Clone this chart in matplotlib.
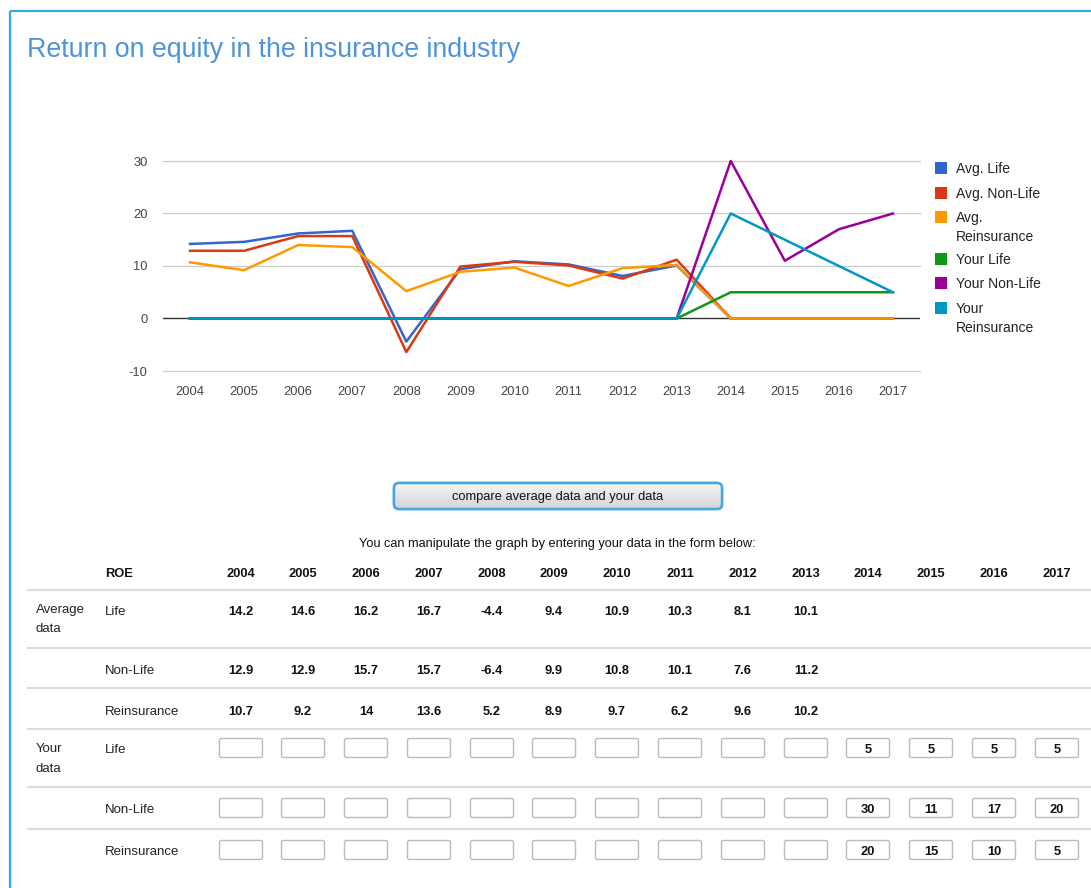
import matplotlib.pyplot as plt
import numpy as np
from matplotlib.colors import LinearSegmentedColormap
from matplotlib.patches import FancyBboxPatch, Rectangle

plt.rcParams['axes.unicode_minus'] = False
plt.rcParams['font.family'] = ['Liberation Sans', 'DejaVu Sans']

# data (empty form fields count as 0 in the graph)
years = list(range(2004, 2018))
n_avg = 10

avg_life = [14.2, 14.6, 16.2, 16.7, -4.4, 9.4, 10.9, 10.3, 8.1, 10.1]
avg_nonlife = [12.9, 12.9, 15.7, 15.7, -6.4, 9.9, 10.8, 10.1, 7.6, 11.2]
avg_reins = [10.7, 9.2, 14, 13.6, 5.2, 8.9, 9.7, 6.2, 9.6, 10.2]
your_life = [5, 5, 5, 5]
your_nonlife = [30, 11, 17, 20]
your_reins = [20, 15, 10, 5]

series_names = ['Avg. Life', 'Avg. Non-Life', 'Avg.\nReinsurance',
                'Your Life', 'Your Non-Life', 'Your\nReinsurance']
colors = ['#3366cc', '#dc3912', '#ff9900', '#109618', '#990099', '#0099c6']
row_names = ['Life', 'Non-Life', 'Reinsurance']

title = 'Return on equity in the insurance industry'
button_text = 'compare average data and your data'
hint_text = 'You can manipulate the graph by entering your data in the form below:'

W, H = 1091, 888
fig = plt.figure(figsize=(W / 100, H / 100), dpi=100)
fig.patch.set_facecolor('white')

# overlay in pixel coords for page elements
ov = fig.add_axes([0, 0, 1, 1], zorder=0)
ov.set_xlim(0, W)
ov.set_ylim(H, 0)
ov.axis('off')

# frame
ov.plot([10, W], [11, 11], color='#33a8de', lw=1.6, solid_capstyle='butt')
ov.plot([10, 10], [11, H], color='#33a8de', lw=1.6, solid_capstyle='butt')

ov.text(27, 50, title, fontsize=19.3, color='#4d94db', va='center', ha='left')

# chart
left, right, top, bottom = 163, 920, 161, 371
ax = fig.add_axes([left / W, 1 - bottom / H, (right - left) / W, (bottom - top) / H], zorder=1)
ax.set_facecolor('none')
ax.set_xlim(2003.5, 2017.5)
ax.set_ylim(-10, 30)
for s in ax.spines.values():
    s.set_visible(False)
ax.set_xticks(years)
ax.set_yticks([-10, 0, 10, 20, 30])
ax.tick_params(length=0, labelsize=9.3, labelcolor='#444444')
ax.tick_params(axis='x', pad=11)
ax.tick_params(axis='y', pad=11)
for v in [-10, 10, 20, 30]:
    ax.axhline(v, color='#cccccc', lw=0.9, zorder=0, clip_on=False)
ax.axhline(0, color='#333333', lw=1.0, zorder=2)

avg_series = [avg_life, avg_nonlife, avg_reins]
your_series = [your_life, your_nonlife, your_reins]
full = [s + [0] * (len(years) - n_avg) for s in avg_series] + \
       [[0] * n_avg + s for s in your_series]
for i, vals in enumerate(full):
    z = 2.5 if i < 3 else 3
    ax.plot(years, vals, color=colors[i], lw=1.8, zorder=z, clip_on=False)

# legend
leg_y = [168, 193, 217, 259, 283, 308]
for name, c, yc in zip(series_names, colors, leg_y):
    ov.add_patch(Rectangle((935, yc - 6), 12, 12, facecolor=c, edgecolor='none'))
    for j, line in enumerate(name.split('\n')):
        ov.text(956, yc + 1 + j * 19, line, fontsize=10, color='#222222', va='center',
                ha='left')

# button
btn = FancyBboxPatch((394, 483), 328, 26, boxstyle='round,pad=0,rounding_size=5',
                     facecolor='#e2e2e2', edgecolor='#4aa6e0', lw=1.8)
ov.add_patch(btn)
grad = LinearSegmentedColormap.from_list('g', ['#f6f6f6', '#d4d4d4'])
im = ov.imshow(np.linspace(0, 1, 50).reshape(-1, 1), extent=(394, 722, 509, 483),
               cmap=grad, aspect='auto', zorder=btn.get_zorder() + 0.1)
im.set_clip_path(btn)
ov.add_patch(FancyBboxPatch((394, 483), 328, 26, boxstyle='round,pad=0,rounding_size=5',
                            facecolor='none', edgecolor='#4aa6e0', lw=1.8,
                            zorder=btn.get_zorder() + 0.2))
ov.set_xlim(0, W)
ov.set_ylim(H, 0)
ov.text(558, 497, button_text, fontsize=9.3, color='#111111', ha='center', va='center',
        zorder=5)

ov.text(557, 544, hint_text, fontsize=9.2, color='#111111', ha='center', va='center')

# table
col_x = [241, 303, 366, 429, 492, 554, 617, 680, 743, 806, 868, 931, 994, 1057]
tfont = dict(fontsize=9.3, color='#111111', va='center')
ov.text(105, 573.5, 'ROE', fontweight='bold', ha='left', **tfont)
for x, yr in zip(col_x, years):
    ov.text(x, 573.5, str(yr), fontweight='bold', ha='center', **tfont)

for ly in [590, 648, 688, 729, 787, 829]:
    ov.plot([27, W], [ly, ly], color='#dddddd', lw=1.6, solid_capstyle='butt')

lfont = dict(fontsize=9.5, color='#222222', va='center', ha='left')
ov.text(36, 609.5, 'Average', **lfont)
ov.text(36, 628.5, 'data', **lfont)
ov.text(36, 748.5, 'Your', **lfont)
ov.text(36, 768.5, 'data', **lfont)

avg_rows_y = [611.5, 670.5, 711.5]
for name, vals, yc in zip(row_names, avg_series, avg_rows_y):
    ov.text(105, yc, name, **lfont)
    for x, v in zip(col_x, vals):
        ov.text(x, yc, f'{v:g}', fontweight='bold', ha='center', **tfont)

your_rows_y = [748, 808, 850]
for name, vals, yc in zip(row_names, your_series, your_rows_y):
    ov.text(105, yc + 1.5, name, **lfont)
    cells = [None] * n_avg + vals
    for x, v in zip(col_x, cells):
        ov.add_patch(FancyBboxPatch((x - 21.5, yc - 9.5), 43, 19,
                                    boxstyle='round,pad=0,rounding_size=2',
                                    facecolor='white', edgecolor='#bbbbbb', lw=1.0))
        if v is not None:
            ov.text(x, yc + 1.5, str(v), fontweight='bold', ha='center', zorder=5, **tfont)

fig.savefig('out.png', dpi=100, facecolor='white')
